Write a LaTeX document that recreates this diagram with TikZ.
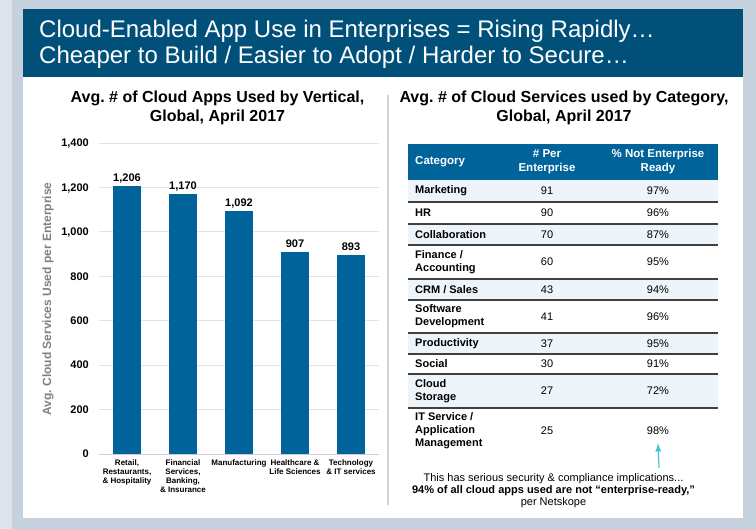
\documentclass[tikz,border=0pt]{standalone}
\usepackage{fontspec}
\setmainfont{Liberation Sans}
\usetikzlibrary{arrows.meta,positioning}

\definecolor{fondo}{RGB}{197,209,221}
\definecolor{fondoclaro}{RGB}{221,228,235}
\definecolor{titulo}{RGB}{0,80,122}
\definecolor{azul}{RGB}{0,100,155}
\definecolor{filaclara}{RGB}{237,244,250}
\definecolor{flecha}{RGB}{70,195,210}
\definecolor{grisEje}{RGB}{128,128,128}

\begin{document}
\begin{tikzpicture}[x=1pt, y=-1pt, >=Latex,
  barra/.style={fill=azul, minimum width=28pt, inner sep=0pt, anchor=south},
  valor/.style={font=\fontsize{11}{13}\selectfont\bfseries, inner sep=0pt, text depth=0pt},
  eje/.style={font=\fontsize{11}{13}\selectfont\bfseries, anchor=east, inner sep=0pt, text depth=0pt},
  vert/.style={font=\fontsize{8}{9}\selectfont\bfseries, align=center, anchor=north, inner sep=0pt},
  rejilla/.style={draw=gray!22, line width=0.8pt},
  celda/.style={font=\fontsize{11}{13}\selectfont\bfseries, align=left, anchor=west, inner sep=0pt},
  dato/.style={font=\fontsize{11}{13}\selectfont, inner sep=0pt},
  cabecera/.style={font=\fontsize{11.5}{14}\selectfont\bfseries, align=center, text=white, inner sep=0pt},
  raya/.style={draw=black!75, line width=1.1pt},
  subtitulo/.style={font=\fontsize{16}{18.5}\selectfont\bfseries, align=center, anchor=north, inner sep=0pt}]

  % Fondo y marco
  \useasboundingbox (0,0) rectangle (756,529);
  \fill[fondo] (0,0) rectangle (756,529);
  \fill[fondoclaro] (0,0) rectangle (12,529);
  \fill[white] (23,77) rectangle (743,518);
  \fill[titulo] (23,9) rectangle (743,77);
  \node[anchor=base west, inner sep=0pt, text=white, font=\fontsize{24}{26}\selectfont] (tit1) at (39,38)
    {Cloud-Enabled App Use in Enterprises = Rising Rapidly…};
  \node[anchor=base west, inner sep=0pt, text=white, font=\fontsize{24}{26}\selectfont] (tit2) at (39,64)
    {Cheaper to Build / Easier to Adopt / Harder to Secure…};

  % Separador
  \draw[gray!35, line width=1.4pt] (388,95) -- (388,505);

  % Grafico de barras
  \node[subtitulo] (subizq) at (217.5,91) {Avg.\ \# of Cloud Apps Used by Vertical,\\Global, April 2017};

  \draw[rejilla] (99,143) -- (379,143);
  \draw[rejilla] (99,187.4) -- (379,187.4);
  \draw[rejilla] (99,231.9) -- (379,231.9);
  \draw[rejilla] (99,276.3) -- (379,276.3);
  \draw[rejilla] (99,320.7) -- (379,320.7);
  \draw[rejilla] (99,365.1) -- (379,365.1);
  \draw[rejilla] (99,409.6) -- (379,409.6);
  \draw[gray!40, line width=0.8pt] (99,454) -- (379,454);

  \node[eje] (t7) at (89,143) {1,400};
  \node[eje] (t6) at (89,187.4) {1,200};
  \node[eje] (t5) at (89,231.9) {1,000};
  \node[eje] (t4) at (89,276.3) {800};
  \node[eje] (t3) at (89,320.7) {600};
  \node[eje] (t2) at (89,365.1) {400};
  \node[eje] (t1) at (89,409.6) {200};
  \node[eje] (t0) at (89,454) {0};

  \node[rotate=90, text=grisEje, font=\fontsize{12}{14}\selectfont\bfseries, inner sep=0pt] (ejey) at (48,299)
    {Avg.\ Cloud Services Used per Enterprise};

  \node[barra, minimum height=267.9pt] (b1) at (127,454) {};
  \node[barra, minimum height=259.9pt] (b2) at (183,454) {};
  \node[barra, minimum height=242.5pt] (b3) at (239,454) {};
  \node[barra, minimum height=201.5pt] (b4) at (295,454) {};
  \node[barra, minimum height=198.4pt] (b5) at (351,454) {};

  \node[valor, above=4pt of b1] (v1) {1,206};
  \node[valor, above=4pt of b2] (v2) {1,170};
  \node[valor, above=4pt of b3] (v3) {1,092};
  \node[valor, above=4pt of b4] (v4) {907};
  \node[valor, above=4pt of b5] (v5) {893};

  \node[vert] (c1) at (127,460) {Retail,\\Restaurants,\\\& Hospitality};
  \node[vert] (c2) at (183,460) {Financial\\Services,\\Banking,\\\& Insurance};
  \node[vert] (c3) at (239,460) {Manufacturing};
  \node[vert] (c4) at (295,460) {Healthcare \&\\Life Sciences};
  \node[vert] (c5) at (351,460) {Technology\\\& IT services};

  % Tabla
  \node[subtitulo] (subder) at (564,91) {Avg.\ \# of Cloud Services used by Category,\\Global, April 2017};

  \fill[azul] (408,144) rectangle (718,180);
  \fill[filaclara] (408,180) rectangle (718,202);
  \fill[filaclara] (408,224) rectangle (718,245);
  \fill[filaclara] (408,279) rectangle (718,300);
  \fill[filaclara] (408,333) rectangle (718,354);
  \fill[filaclara] (408,374) rectangle (718,408);

  \draw[raya] (408,202) -- (718,202);
  \draw[raya] (408,224) -- (718,224);
  \draw[raya] (408,245) -- (718,245);
  \draw[raya] (408,279) -- (718,279);
  \draw[raya] (408,300) -- (718,300);
  \draw[raya] (408,333) -- (718,333);
  \draw[raya] (408,354) -- (718,354);
  \draw[raya] (408,374) -- (718,374);
  \draw[raya] (408,408) -- (718,408);

  \node[cabecera, anchor=west] (hcat) at (415,162) {Category};
  \node[cabecera] (hnum) at (547,162) {\# Per\\Enterprise};
  \node[cabecera] (hpct) at (658,162) {\% Not Enterprise\\Ready};

  \node[celda] (r1) at (415,191) {Marketing};
  \node[dato] (n1) at (547,191) {91};
  \node[dato] (p1) at (658,191) {97\%};

  \node[celda] (r2) at (415,213) {HR};
  \node[dato] (n2) at (547,213) {90};
  \node[dato] (p2) at (658,213) {96\%};

  \node[celda] (r3) at (415,234.5) {Collaboration};
  \node[dato] (n3) at (547,234.5) {70};
  \node[dato] (p3) at (658,234.5) {87\%};

  \node[celda] (r4) at (415,262) {Finance /\\Accounting};
  \node[dato] (n4) at (547,262) {60};
  \node[dato] (p4) at (658,262) {95\%};

  \node[celda] (r5) at (415,289.5) {CRM / Sales};
  \node[dato] (n5) at (547,289.5) {43};
  \node[dato] (p5) at (658,289.5) {94\%};

  \node[celda] (r6) at (415,316.5) {Software\\Development};
  \node[dato] (n6) at (547,316.5) {41};
  \node[dato] (p6) at (658,316.5) {96\%};

  \node[celda] (r7) at (415,343.5) {Productivity};
  \node[dato] (n7) at (547,343.5) {37};
  \node[dato] (p7) at (658,343.5) {95\%};

  \node[celda] (r8) at (415,364) {Social};
  \node[dato] (n8) at (547,364) {30};
  \node[dato] (p8) at (658,364) {91\%};

  \node[celda] (r9) at (415,391) {Cloud\\Storage};
  \node[dato] (n9) at (547,391) {27};
  \node[dato] (p9) at (658,391) {72\%};

  \node[celda] (r10) at (415,431) {IT Service /\\Application\\Management};
  \node[dato] (n10) at (547,431) {25};
  \node[dato] (p10) at (658,431) {98\%};

  % Nota
  \coordinate (ini) at (659,468);
  \draw[->, flecha, line width=1.2pt] (ini) -- ([yshift=-8pt]p10.south);
  \node[align=center, inner sep=0pt, font=\fontsize{11}{12}\selectfont] (nota) at (553.5,491)
    {This has serious security \& compliance implications...\\
     \textbf{94\% of all cloud apps used are not “enterprise-ready,”}\\
     per Netskope};
\end{tikzpicture}
\end{document}
